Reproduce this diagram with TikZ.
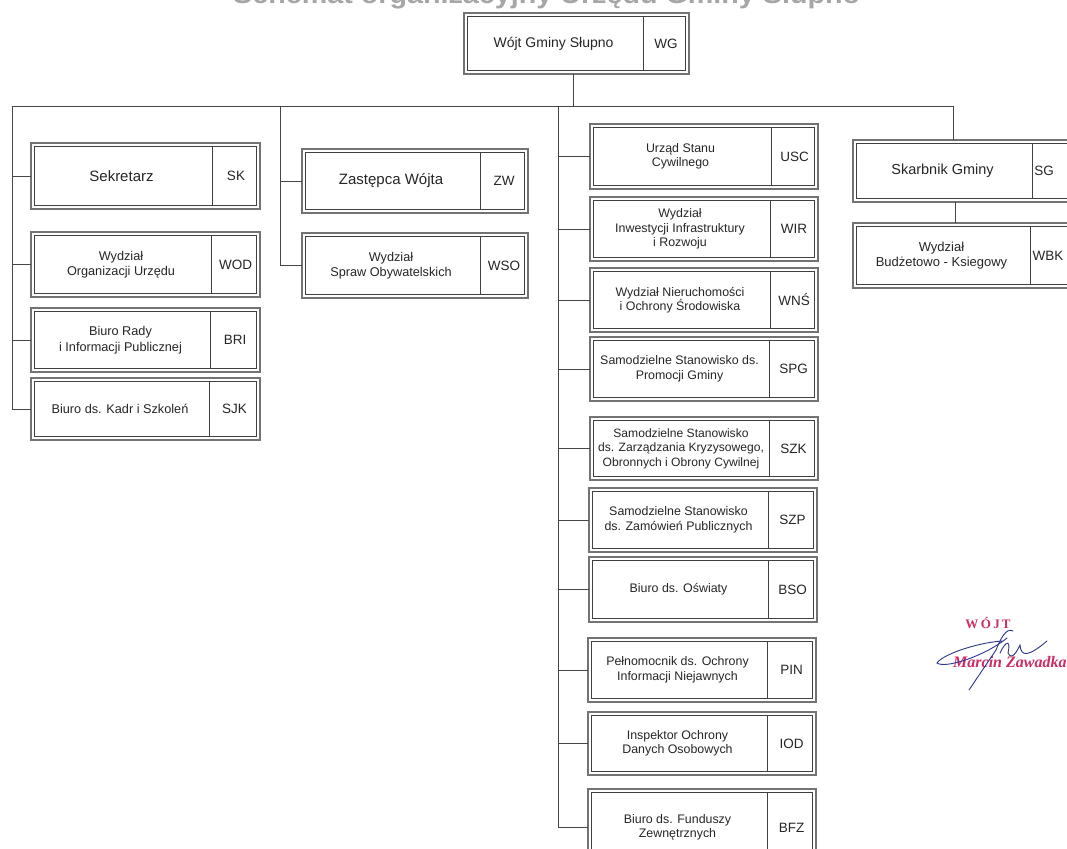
\documentclass[tikz,border=0pt]{standalone}
\usepackage{graphicx}
\usepackage{fontspec}
\setmainfont{Liberation Sans}
\newfontfamily\sigfont{Liberation Serif}
\usetikzlibrary{calc}
\definecolor{lnc}{RGB}{70,70,70}
\definecolor{sigred}{RGB}{205,45,100}
\definecolor{sigblue}{RGB}{45,55,140}
\tikzset{
  obox/.style={draw=black!55, line width=1.2pt, inner sep=0pt, outer sep=0pt},
  ibox/.style={draw=black!75, line width=0.9pt},
  conn/.style={draw=lnc, line width=0.9pt},
  divl/.style={draw=black!75, line width=0.9pt},
  lab/.style={align=center, inner sep=0pt, text=black!85},
  cod/.style={inner sep=0pt, text=black!85, font=\fontsize{13.5}{16}\selectfont},
  fbigl/.style={lab/.append style={font=\fontsize{15}{18}\selectfont}},
  fwgl/.style={lab/.append style={font=\fontsize{14}{17}\selectfont}},
  fsgl/.style={lab/.append style={font=\fontsize{14.5}{17}\selectfont}},
  fsmll/.style={lab/.append style={font=\fontsize{12.7}{15.5}\selectfont}},
  fmidl/.style={lab/.append style={font=\fontsize{12.4}{14.5}\selectfont}},
  fwbkl/.style={lab/.append style={font=\fontsize{13}{15.5}\selectfont}},
}
% [style] name, x1, y1, x2, y2, xdiv, label, code
\newcommand\obox[9][]{%
  \begin{scope}[#1]
  \node[obox, anchor=north west, minimum width={(#5-#3)*1pt}, minimum height={(#6-#4)*1pt}] (#2) at (#3,#4) {};
  \draw[ibox] ($(#2.north west)+(3.5,3.5)$) rectangle ($(#2.south east)+(-3.5,-3.5)$);
  \draw[divl] (#7,#4+3.5) -- (#7,#6-3.5);
  \node[lab] (#2-l) at ({(#3+#7)/2},{(#4+#6)/2}) {#8};
  \node[cod] (#2-c) at ({(#7+#5)/2},{(#4+#6)/2}) {#9};
  \end{scope}%
}
\begin{document}
\begin{tikzpicture}[x=1pt,y=-1pt]
\useasboundingbox (0,0) rectangle (1067,848);
\fill[white] (0,0) rectangle (1067,848);
\clip (0,0) rectangle (1067,848);

% title, cut off by the top edge as in the scan
\node[anchor=base west, inner sep=0pt, text=black!35] (title) at (233,4)
  {\resizebox{627pt}{\height}{\fontsize{26}{30}\selectfont\bfseries Schemat organizacyjny Urzędu Gminy Słupno}};

% boxes
\obox[fwgl]{wg}{464}{13}{689}{74}{643}{Wójt Gminy Słupno}{WG}

\obox[fbigl]{sk}{31}{143}{260}{209}{212}{Sekretarz}{SK}
\obox[fsmll]{wod}{31}{232}{260}{297}{211}{Wydział\\Organizacji Urzędu}{WOD}
\obox[fsmll]{bri}{31}{308}{260}{372}{210}{Biuro Rady\\i Informacji Publicznej}{BRI}
\obox[fsmll]{sjk}{31}{378}{260}{440}{209}{Biuro ds. Kadr i Szkoleń}{SJK}

\obox[fbigl]{zw}{302}{149}{528}{213}{480}{Zastępca Wójta}{ZW}
\obox[fsmll]{wso}{302}{233}{528}{298}{480}{Wydział\\Spraw Obywatelskich}{WSO}

\obox[fmidl]{usc}{590}{124}{818}{189}{771}{Urząd Stanu\\Cywilnego}{USC}
\obox[fmidl]{wir}{590}{197}{818}{261}{770}{Wydział\\Inwestycji Infrastruktury\\i Rozwoju}{WIR}
\obox[fmidl]{wns}{590}{268}{818}{332}{770}{Wydział Nieruchomości\\i Ochrony Środowiska}{WNŚ}
\obox[fmidl]{spg}{590}{337}{818}{401}{769}{Samodzielne Stanowisko ds.\\Promocji Gminy}{SPG}
\obox[fmidl, lab/.append style={xshift=1.5pt, font=\fontsize{12.1}{14.5}\selectfont}]{szk}{590}{417}{818}{480}{769}{Samodzielne Stanowisko\\ds. Zarządzania Kryzysowego,\\Obronnych i Obrony Cywilnej}{SZK}
\obox[fmidl]{szp}{589}{488}{817}{552}{768}{Samodzielne Stanowisko\\ds. Zamówień Publicznych}{SZP}
\obox[fmidl]{bso}{589}{557}{817}{622}{768}{Biuro ds. Oświaty}{BSO}
\obox[fmidl]{pin}{588}{638}{816}{702}{767}{Pełnomocnik ds. Ochrony\\Informacji Niejawnych}{PIN}
\obox[fmidl]{iod}{588}{712}{816}{775}{767}{Inspektor Ochrony\\Danych Osobowych}{IOD}
\obox[fmidl]{bfz}{588}{789}{816}{866}{767}{Biuro ds. Funduszy\\Zewnętrznych}{BFZ}

\obox[fsgl, cod/.append style={xshift=-10pt}]{sg}{853}{140}{1076}{202}{1032}{Skarbnik Gminy}{SG}
\obox[fwbkl, cod/.append style={xshift=-5pt}]{wbk}{853}{223}{1076}{288}{1030}{Wydział\\Budżetowo - Ksiegowy}{WBK}

% bus and trunks
\coordinate (busL) at (12,106);
\coordinate (bus2) at (280,106);
\coordinate (bus3) at (558,106);
\coordinate (busR) at (953,106);
\coordinate (wgdown) at (573,106);
\draw[conn] (busL) -- (busR);
\draw[conn] (wg.south -| wgdown) -- (wgdown);

\draw[conn] (busL) -- (busL |- sjk.west) -- (sjk.west);
\foreach \b in {sk,wod,bri} \draw[conn] (busL |- \b.west) -- (\b.west);

\draw[conn] (bus2) -- (bus2 |- wso.west) -- (wso.west);
\draw[conn] (bus2 |- zw.west) -- (zw.west);

\draw[conn] (bus3) -- (bus3 |- bfz.west) -- (bfz.west);
\foreach \b in {usc,wir,wns,spg,szk,szp,bso,pin,iod} \draw[conn] (bus3 |- \b.west) -- (\b.west);

\draw[conn] (busR) -- (busR |- sg.north);
\coordinate (sgx) at (955,0);
\draw[conn] (sg.south -| sgx) -- (wbk.north -| sgx);

% signature
\node[text=sigred, inner sep=0pt, font=\sigfont\bfseries\fontsize{13}{14}\selectfont] (wojt) at (988,623) {W\hspace{2.5pt}Ó\hspace{2.5pt}J\hspace{2pt}T};
\node[text=sigred, inner sep=0pt, anchor=base west, font=\sigfont\bfseries\itshape\fontsize{16}{18}\selectfont] (mz) at (953,667) {Marcin Zawadka};
\draw[sigblue, line width=0.9pt, line cap=round]
  (1002,641) .. controls (975,643) and (942,655) .. (937,663)
  .. controls (945,669) and (985,656) .. (1007,638);
\draw[sigblue, line width=0.9pt, line cap=round]
  (1013,631) .. controls (1006,627) and (1000,640) .. (996,650) -- (969,690);
\draw[sigblue, line width=0.9pt, line cap=round]
  (1000,653) .. controls (1006,640) and (1011,640) .. (1008,653)
  .. controls (1012,661) and (1017,651) .. (1020,645)
  .. controls (1021,657) and (1028,657) .. (1047,641);
\end{tikzpicture}
\end{document}
